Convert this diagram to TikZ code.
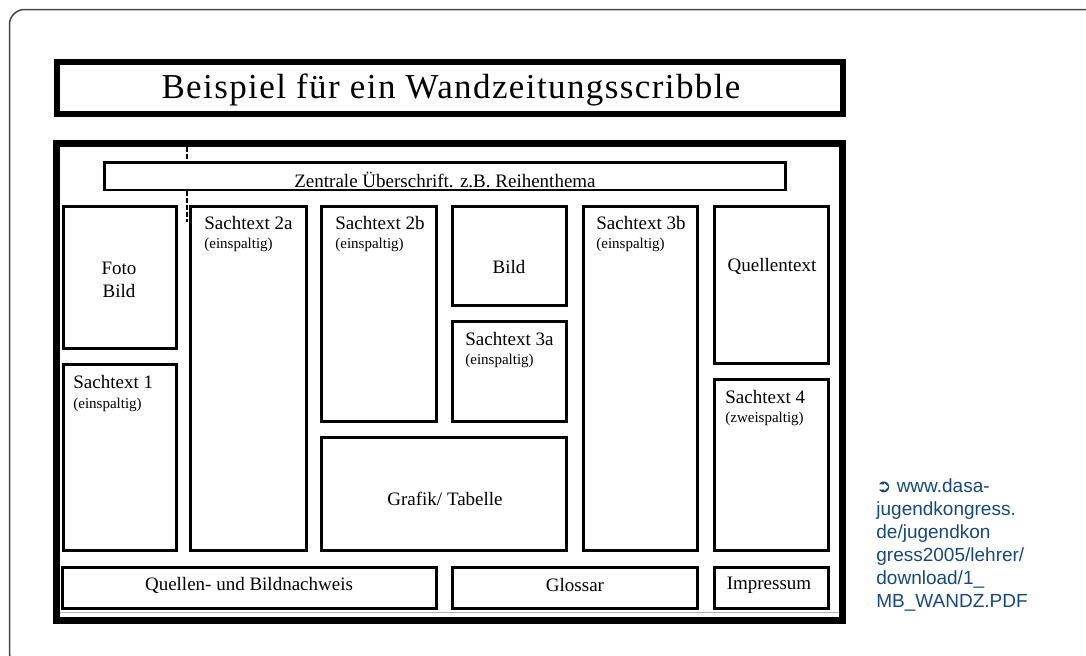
\documentclass[tikz,border=0pt]{standalone}
\usepackage{fontspec}
\setmainfont{Liberation Serif}
\setsansfont{Liberation Sans}
\newfontfamily\symbolfont{DejaVu Sans}
\newfontfamily\titelfont[LetterSpace=4]{Liberation Serif}
\definecolor{linkblau}{RGB}{20,72,128}
\definecolor{rahmengrau}{RGB}{70,70,70}
\tikzset{
    rahmen/.style = {
    	line width=0.75pt,
    	rahmengrau,
    	rounded corners=7.5pt
    },
    titelbox/.style = {
    	line width=3pt,
    	black
    },
    hauptbox/.style = {
    	line width=3.5pt,
    	black
    },
    feld/.style = {
    	line width=1.5pt,
    	black
    },
    zentralbox/.style = {
    	line width=1.3pt,
    	black
    },
    hilfslinie/.style = {
    	line width=0.6pt,
    	dash pattern=on 2.5pt off 1pt,
    	black
    },
    fachtext/.style = {
    	inner sep=0pt,
    	font=\fontsize{9.5}{11.4}\selectfont
    },
    zusatz/.style = {
    	inner sep=0pt,
    	font=\fontsize{7.5}{9}\selectfont
    }
}

\begin{document}
\begin{tikzpicture}[x=0.5pt,y=-0.5pt]

	\useasboundingbox (0,0) rectangle (1086,655);

	% Rahmen der Seite
	\begin{scope}
	\clip (0,0) rectangle (1086,655);
	\draw[rahmen] (9.5,9.5) rectangle (1099,668);
	\end{scope}

	% Titel
	\draw[titelbox] (56.5,61.5) rectangle (842.5,114);
	\node[inner sep=0pt, anchor=base, font=\titelfont\fontsize{17.5}{20}\selectfont] (titel) at (451,98) {Beispiel f\"ur ein Wandzeitungsscribble};

	% Wandzeitung
	\draw[hauptbox] (56.5,143.5) rectangle (842.5,620.5);
	\draw[gray!60, line width=0.5pt] (60,612) -- (839,612);

	\draw[zentralbox] (104.5,162.5) rectangle (785.5,190);
	\node[fachtext, anchor=base] (zentral) at (445,187) {Zentrale \"Uberschrift. z.B. Reihenthema};

	\coordinate (hilfoben) at (187,147);
	\coordinate (hilfmitte) at (187,162);
	\coordinate (hilfunten) at (187,191);
	\coordinate (hilfende) at (187,222);
	\draw[hilfslinie] (hilfoben) -- (hilfmitte) (hilfunten) -- (hilfende);

	% Spalte 1
	\draw[feld] (63,206) rectangle (176,348);
	\node[fachtext, align=center] (foto) at (119,280) {Foto\\Bild};

	\draw[feld] (63,364) rectangle (176,550);
	\node[fachtext, anchor=base west] (st1) at (73,388) {Sachtext 1};
	\node[zusatz, anchor=base west] (st1zusatz) at (73,408) {(einspaltig)};

	% Spalte 2
	\draw[feld] (190,206) rectangle (306,550);
	\node[fachtext, anchor=base west] (st2a) at (204,229) {Sachtext 2a};
	\node[zusatz, anchor=base west] (st2azusatz) at (204,248) {(einspaltig)};

	% Spalte 3 und 4
	\draw[feld] (321,206) rectangle (436,421);
	\node[fachtext, anchor=base west] (st2b) at (335,229) {Sachtext 2b};
	\node[zusatz, anchor=base west] (st2bzusatz) at (335,248) {(einspaltig)};

	\draw[feld] (452,206) rectangle (566,305);
	\node[fachtext] (bild) at (509,267) {Bild};

	\draw[feld] (452,321) rectangle (566,421);
	\node[fachtext, anchor=base west] (st3a) at (465,345) {Sachtext 3a};
	\node[zusatz, anchor=base west] (st3azusatz) at (465,364) {(einspaltig)};

	\draw[feld] (321,437) rectangle (566,550);
	\node[fachtext] (grafik) at (445,499) {Grafik/ Tabelle};

	% Spalte 5
	\draw[feld] (583,206) rectangle (697,550);
	\node[fachtext, anchor=base west] (st3b) at (596,229) {Sachtext 3b};
	\node[zusatz, anchor=base west] (st3bzusatz) at (596,248) {(einspaltig)};

	% Spalte 6
	\draw[feld] (714,206) rectangle (828,363);
	\node[fachtext] (quellentext) at (772,266) {Quellentext};

	\draw[feld] (714,379) rectangle (828,550);
	\node[fachtext, anchor=base west] (st4) at (725,403) {Sachtext 4};
	\node[zusatz, anchor=base west] (st4zusatz) at (725,422) {(zweispaltig)};

	% Fusszeile
	\draw[feld] (62,567) rectangle (436,608);
	\node[fachtext] (nachweis) at (249,585) {Quellen- und Bildnachweis};

	\draw[feld] (452,567) rectangle (697,608);
	\node[fachtext] (glossar) at (575,585) {Glossar};

	\draw[feld] (714,567) rectangle (828,608);
	\node[fachtext] (impressum) at (769,585) {Impressum};

	% Quellenangabe
	\node[inner sep=0pt, anchor=north west, align=left, text=linkblau, font=\sffamily\fontsize{9.5}{11.5}\selectfont] (quelle) at (876,478)
	{{\symbolfont\fontsize{9}{11.5}\selectfont ➲} www.dasa-\\jugendkongress.\\de/jugendkon\\gress2005/lehrer/\\download/1\_\\MB\_WANDZ.PDF};

\end{tikzpicture}
\end{document}
